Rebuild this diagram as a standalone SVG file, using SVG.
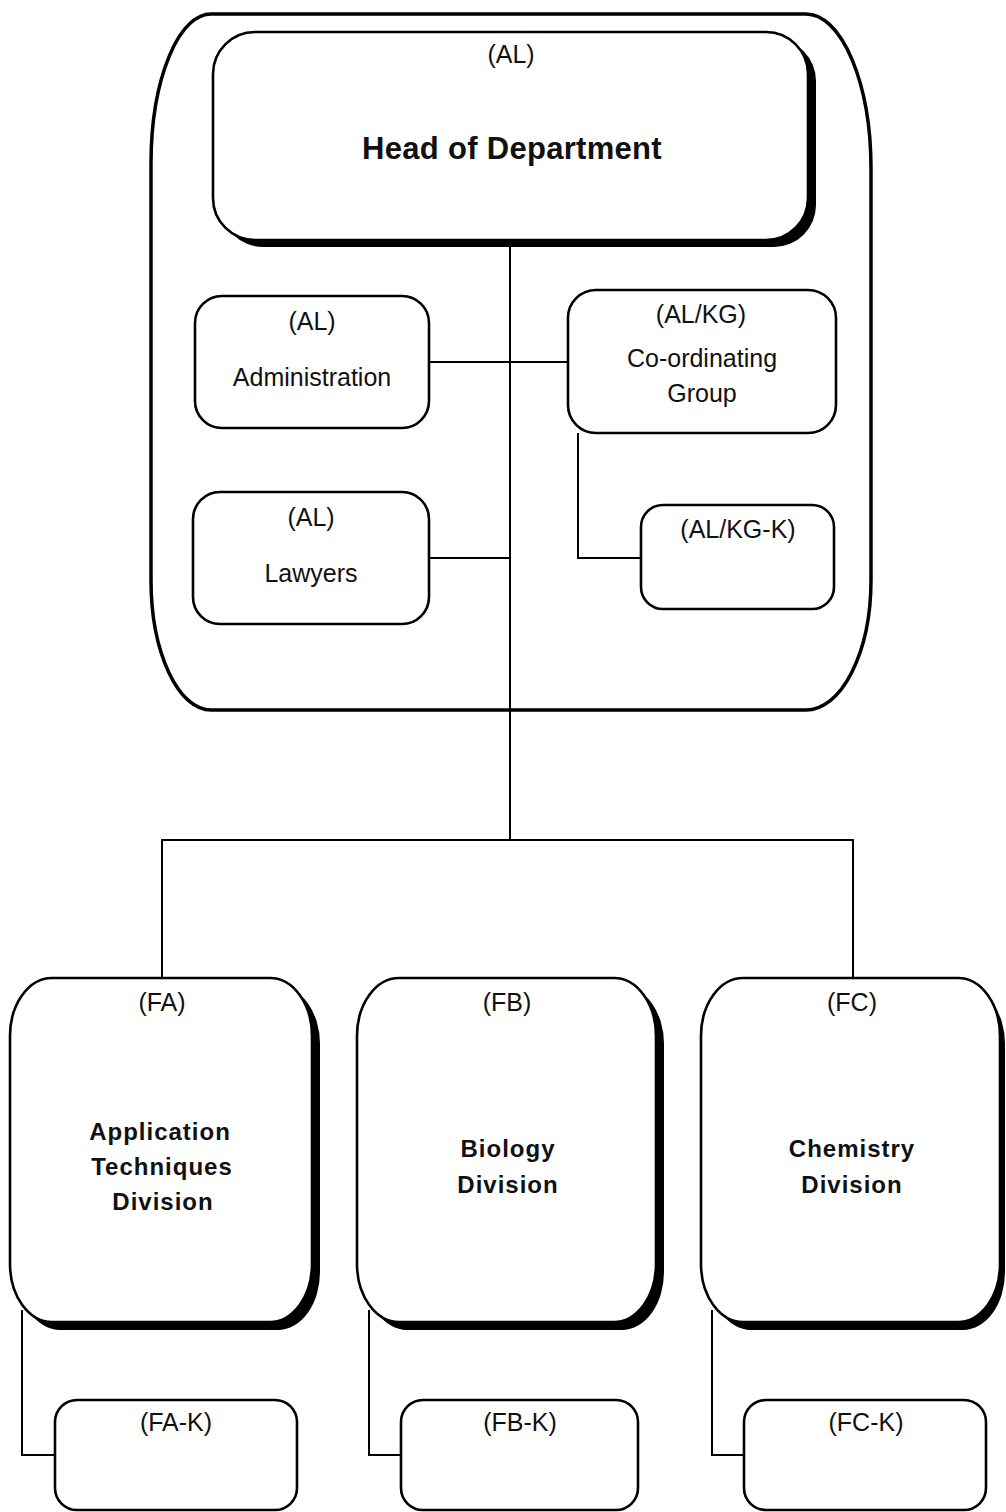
<svg xmlns="http://www.w3.org/2000/svg" width="1006" height="1512" viewBox="0 0 1006 1512">
<defs>
<style>
.box{fill:#fff;stroke:#000;stroke-width:2.6}
.sh{fill:#000;stroke:none}
.outer{fill:#fff;stroke:#000;stroke-width:3.5}
.ln{fill:none;stroke:#000;stroke-width:2}
.t{font-family:"Liberation Sans",Arial,sans-serif;font-size:25px;fill:#111;text-anchor:middle}
.b{font-family:"Liberation Sans",Arial,sans-serif;font-size:24px;font-weight:bold;letter-spacing:1px;fill:#111;text-anchor:middle}
.h{font-family:"Liberation Sans",Arial,sans-serif;font-size:31px;font-weight:bold;letter-spacing:0.3px;fill:#111;text-anchor:middle}
</style>
</defs>
<rect width="1006" height="1512" fill="#fff"/>
<g id="department">
<path class="outer" d="M213 14 H806 A65 155 0 0 1 871 169 V580 A65 130 0 0 1 806 710 H211 A60 130 0 0 1 151 580 V164 A60 150 0 0 1 213 14 Z"/>
</g>
<g id="connectors">
<path class="ln" d="M510 247 V840"/>
<path class="ln" d="M429 362 H568"/>
<path class="ln" d="M429 558 H510"/>
<path class="ln" d="M578 433 V558 H641"/>
<path class="ln" d="M162 978 V840 H853 V978"/>
<path class="ln" d="M22 1310 V1455 H55"/>
<path class="ln" d="M369 1310 V1455 H401"/>
<path class="ln" d="M712 1310 V1455 H744"/>
</g>
<g id="head">
<rect class="sh" x="221" y="39" width="595" height="208" rx="42" ry="42"/>
<rect class="box" x="213" y="32" width="595" height="208" rx="42" ry="42"/>
<text class="t" x="511" y="63">(AL)</text>
<text class="h" x="512" y="159">Head of Department</text>
</g>
<g id="administration">
<rect class="box" x="195" y="296" width="234" height="132" rx="27" ry="27"/>
<text class="t" x="312" y="330">(AL)</text>
<text class="t" x="312" y="386">Administration</text>
</g>
<g id="lawyers">
<rect class="box" x="193" y="492" width="236" height="132" rx="27" ry="27"/>
<text class="t" x="311" y="526">(AL)</text>
<text class="t" x="311" y="582">Lawyers</text>
</g>
<g id="coordinating">
<rect class="box" x="568" y="290" width="268" height="143" rx="28" ry="28"/>
<text class="t" x="701" y="323">(AL/KG)</text>
<text class="t" x="702" y="367">Co-ordinating</text>
<text class="t" x="702" y="402">Group</text>
</g>
<g id="coordinating-k">
<rect class="box" x="641" y="505" width="193" height="104" rx="22" ry="22"/>
<text class="t" x="738" y="538">(AL/KG-K)</text>
</g>
<g id="fa">
<rect class="sh" x="18" y="986" width="302" height="344" rx="42" ry="58"/>
<rect class="box" x="10" y="978" width="302" height="344" rx="42" ry="58"/>
<text class="t" x="162" y="1011">(FA)</text>
<text class="b" x="160" y="1140">Application</text>
<text class="b" x="162" y="1175">Techniques</text>
<text class="b" x="163" y="1210">Division</text>
</g>
<g id="fb">
<rect class="sh" x="365" y="986" width="299" height="344" rx="42" ry="58"/>
<rect class="box" x="357" y="978" width="299" height="344" rx="42" ry="58"/>
<text class="t" x="507" y="1011">(FB)</text>
<text class="b" x="508" y="1157">Biology</text>
<text class="b" x="508" y="1193">Division</text>
</g>
<g id="fc">
<rect class="sh" x="709" y="986" width="296" height="344" rx="42" ry="58"/>
<rect class="box" x="701" y="978" width="299" height="344" rx="42" ry="58"/>
<text class="t" x="852" y="1011">(FC)</text>
<text class="b" x="852" y="1157">Chemistry</text>
<text class="b" x="852" y="1193">Division</text>
</g>
<g id="fa-k">
<rect class="box" x="55" y="1400" width="242" height="110" rx="22" ry="22"/>
<text class="t" x="176" y="1431">(FA-K)</text>
</g>
<g id="fb-k">
<rect class="box" x="401" y="1400" width="237" height="110" rx="22" ry="22"/>
<text class="t" x="520" y="1431">(FB-K)</text>
</g>
<g id="fc-k">
<rect class="box" x="744" y="1400" width="242" height="110" rx="22" ry="22"/>
<text class="t" x="866" y="1431">(FC-K)</text>
</g>
</svg>
